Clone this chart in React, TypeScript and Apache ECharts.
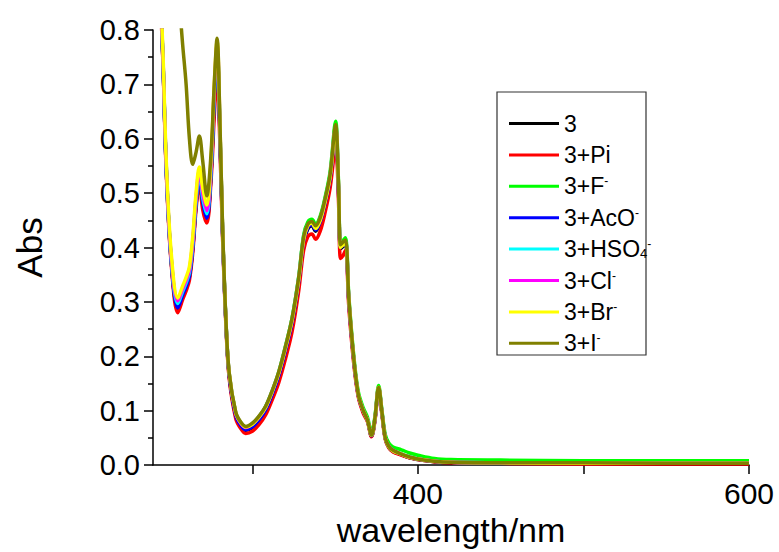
import React, { useEffect, useRef } from "react";
import * as echarts from "echarts";

const wavelengths = [240, 243, 246, 248, 251, 255, 258, 260, 262, 264, 266, 268, 270, 272.5, 275, 277, 278.7, 280.5, 282, 284, 286, 290, 293, 296, 300, 304, 308, 312, 316, 320, 324, 328, 331, 333.5, 336, 338.2, 341, 344, 347, 350.3, 352, 353.3, 354.8, 356.3, 358.3, 361.3, 364, 367, 369.5, 372, 374, 376.3, 378.3, 380.3, 382.5, 385, 390, 395, 400, 410, 420, 450, 500, 550, 600];

const abs3 = [1.3, 0.985, 0.745, 0.545, 0.375, 0.288, 0.312, 0.327, 0.346, 0.398, 0.478, 0.53, 0.482, 0.452, 0.532, 0.67, 0.755, 0.6, 0.43, 0.265, 0.165, 0.09, 0.072, 0.064, 0.069, 0.082, 0.1, 0.129, 0.163, 0.208, 0.259, 0.335, 0.41, 0.434, 0.44, 0.43, 0.445, 0.48, 0.525, 0.612, 0.51, 0.398, 0.402, 0.407, 0.3, 0.192, 0.128, 0.098, 0.082, 0.053, 0.082, 0.14, 0.095, 0.049, 0.032, 0.025, 0.019, 0.013, 0.01, 0.006, 0.004, 0.003, 0.003, 0.002, 0.002];
const absPi = [1.3, 0.98, 0.74, 0.54, 0.37, 0.28, 0.305, 0.32, 0.34, 0.39, 0.47, 0.52, 0.47, 0.445, 0.52, 0.64, 0.72, 0.58, 0.42, 0.26, 0.16, 0.085, 0.067, 0.058, 0.062, 0.074, 0.092, 0.12, 0.152, 0.195, 0.245, 0.32, 0.395, 0.42, 0.425, 0.415, 0.43, 0.465, 0.51, 0.585, 0.49, 0.38, 0.385, 0.395, 0.29, 0.185, 0.125, 0.095, 0.08, 0.052, 0.08, 0.138, 0.092, 0.047, 0.031, 0.024, 0.018, 0.013, 0.01, 0.006, 0.004, 0.003, 0.002, 0.002, 0.002];
const absF = [1.3, 0.99, 0.75, 0.55, 0.38, 0.294, 0.318, 0.333, 0.352, 0.405, 0.485, 0.535, 0.49, 0.46, 0.54, 0.68, 0.765, 0.61, 0.435, 0.268, 0.168, 0.095, 0.077, 0.068, 0.074, 0.088, 0.107, 0.136, 0.171, 0.218, 0.27, 0.346, 0.423, 0.447, 0.452, 0.443, 0.458, 0.493, 0.54, 0.632, 0.525, 0.41, 0.413, 0.418, 0.31, 0.2, 0.135, 0.105, 0.088, 0.06, 0.088, 0.146, 0.1, 0.056, 0.04, 0.033, 0.028, 0.022, 0.018, 0.012, 0.01, 0.009, 0.008, 0.008, 0.008];
const absAcO = [1.3, 0.985, 0.745, 0.545, 0.376, 0.289, 0.313, 0.328, 0.347, 0.399, 0.479, 0.531, 0.484, 0.454, 0.534, 0.672, 0.757, 0.602, 0.431, 0.266, 0.166, 0.091, 0.073, 0.065, 0.07, 0.083, 0.101, 0.13, 0.164, 0.21, 0.261, 0.337, 0.412, 0.436, 0.442, 0.432, 0.447, 0.482, 0.527, 0.615, 0.512, 0.4, 0.404, 0.409, 0.302, 0.193, 0.129, 0.099, 0.083, 0.054, 0.083, 0.141, 0.096, 0.05, 0.033, 0.026, 0.02, 0.014, 0.011, 0.007, 0.005, 0.004, 0.003, 0.003, 0.003];
const absHSO4 = [1.3, 0.988, 0.748, 0.548, 0.378, 0.297, 0.32, 0.335, 0.354, 0.406, 0.486, 0.538, 0.492, 0.462, 0.542, 0.682, 0.768, 0.612, 0.436, 0.269, 0.169, 0.096, 0.078, 0.07, 0.076, 0.089, 0.107, 0.136, 0.171, 0.217, 0.269, 0.344, 0.419, 0.442, 0.447, 0.438, 0.453, 0.488, 0.533, 0.622, 0.518, 0.403, 0.408, 0.412, 0.304, 0.194, 0.13, 0.1, 0.083, 0.055, 0.084, 0.142, 0.097, 0.05, 0.034, 0.027, 0.02, 0.015, 0.011, 0.007, 0.005, 0.004, 0.003, 0.003, 0.003];
const absCl = [1.3, 0.99, 0.752, 0.552, 0.382, 0.302, 0.325, 0.34, 0.359, 0.412, 0.492, 0.542, 0.5, 0.468, 0.55, 0.69, 0.773, 0.615, 0.437, 0.269, 0.169, 0.095, 0.077, 0.069, 0.075, 0.088, 0.106, 0.135, 0.169, 0.215, 0.266, 0.341, 0.415, 0.44, 0.445, 0.436, 0.451, 0.486, 0.531, 0.62, 0.518, 0.402, 0.407, 0.411, 0.303, 0.193, 0.129, 0.1, 0.083, 0.055, 0.083, 0.142, 0.096, 0.05, 0.034, 0.027, 0.02, 0.014, 0.011, 0.007, 0.005, 0.004, 0.003, 0.003, 0.003];
const absBr = [1.3, 1.0, 0.76, 0.56, 0.39, 0.307, 0.33, 0.345, 0.365, 0.42, 0.5, 0.548, 0.51, 0.478, 0.56, 0.7, 0.78, 0.62, 0.44, 0.27, 0.17, 0.096, 0.078, 0.07, 0.075, 0.088, 0.106, 0.135, 0.169, 0.215, 0.266, 0.34, 0.415, 0.44, 0.445, 0.435, 0.45, 0.485, 0.53, 0.62, 0.52, 0.4, 0.405, 0.41, 0.305, 0.195, 0.13, 0.1, 0.083, 0.055, 0.084, 0.143, 0.097, 0.05, 0.033, 0.026, 0.02, 0.014, 0.011, 0.007, 0.005, 0.004, 0.003, 0.003, 0.003];
const absI = [1.6, 1.4, 1.2, 1.1, 0.98, 0.88, 0.77, 0.7, 0.6, 0.553, 0.575, 0.605, 0.56, 0.495, 0.57, 0.7, 0.785, 0.62, 0.44, 0.27, 0.17, 0.097, 0.079, 0.071, 0.077, 0.09, 0.108, 0.137, 0.172, 0.218, 0.27, 0.345, 0.42, 0.443, 0.448, 0.44, 0.455, 0.49, 0.535, 0.626, 0.52, 0.405, 0.41, 0.414, 0.305, 0.195, 0.13, 0.1, 0.083, 0.055, 0.085, 0.143, 0.097, 0.05, 0.034, 0.027, 0.02, 0.015, 0.011, 0.007, 0.005, 0.004, 0.004, 0.003, 0.003];

const seriesNames = ["3", "3+Pi", "3+F-", "3+AcO-", "3+HSO4-", "3+Cl-", "3+Br-", "3+I-"];
const seriesLabels = ["3", "3+Pi", "3+F{sup|-}", "3+AcO{sup|-}", "3+HSO{sub|4}{sup|-}", "3+Cl{sup|-}", "3+Br{sup|-}", "3+I{sup|-}"];
const seriesColors = ["#000000", "#FF0000", "#00FF00", "#0000FF", "#00FFFF", "#FF00FF", "#FFFF00", "#808000"];
const seriesValues = [abs3, absPi, absF, absAcO, absHSO4, absCl, absBr, absI];

const xTickValues = [300, 400, 500, 600];
const xLabelValues = [400, 600];

const FONT = "'Liberation Sans', Arial, sans-serif";

export default function App() {
  const ref = useRef<HTMLDivElement>(null);
  useEffect(() => {
    if (!ref.current) return;
    const chart = echarts.init(ref.current, null, { renderer: "svg" });
    const series = seriesNames.map((name, i) => ({
      name,
      type: "line",
      data: wavelengths.map((w, j) => [w, seriesValues[i][j]]),
      showSymbol: false,
      symbol: "none",
      smooth: 0.35,
      clip: true,
      color: seriesColors[i],
      lineStyle: { color: seriesColors[i], width: 3.5 },
      z: 2 + i,
    }));
    chart.setOption({
      animation: false,
      backgroundColor: "#ffffff",
      grid: { left: 153, right: 30, top: 30, bottom: 87, containLabel: false },
      xAxis: {
        type: "value",
        min: 240,
        max: 600,
        name: "wavelength/nm",
        nameLocation: "middle",
        nameGap: 42,
        nameTextStyle: { fontFamily: FONT, fontSize: 34, color: "#000" },
        axisLine: { show: true, onZero: false, lineStyle: { color: "#000", width: 1.5 } },
        axisTick: { show: true, inside: false, length: 9, customValues: xTickValues, lineStyle: { color: "#000", width: 1.5 } },
        axisLabel: { show: true, customValues: xLabelValues, margin: 13, fontFamily: FONT, fontSize: 30, color: "#000" },
        splitLine: { show: false },
      },
      yAxis: {
        type: "value",
        min: 0,
        max: 0.8,
        interval: 0.1,
        name: "Abs",
        nameLocation: "middle",
        nameGap: 106,
        nameRotate: 90,
        nameTextStyle: { fontFamily: FONT, fontSize: 35, color: "#000" },
        axisLine: { show: true, lineStyle: { color: "#000", width: 1.5 } },
        axisTick: { show: true, inside: false, length: 9, lineStyle: { color: "#000", width: 1.5 } },
        minorTick: { show: true, splitNumber: 2, length: 5, lineStyle: { color: "#000", width: 1.5 } },
        axisLabel: { margin: 13, fontFamily: FONT, fontSize: 29, color: "#000", formatter: (v: number) => v.toFixed(1) },
        splitLine: { show: false },
      },
      legend: {
        orient: "vertical",
        left: 504,
        top: 107,
        icon: "rect",
        itemWidth: 50,
        itemHeight: 3,
        itemGap: 8.4,
        selectedMode: false,
        data: seriesNames,
        formatter: (name: string) => seriesLabels[seriesNames.indexOf(name)],
        textStyle: {
          fontFamily: FONT,
          fontSize: 23,
          lineHeight: 22,
          color: "#000",
          rich: {
            sup: { fontFamily: FONT, fontSize: 12, lineHeight: 12, verticalAlign: "top", color: "#000" },
            sub: { fontFamily: FONT, fontSize: 13, lineHeight: 12, verticalAlign: "bottom", color: "#000" },
          },
        },
      },
      graphic: [
        {
          type: "rect",
          shape: { x: 497, y: 92, width: 149, height: 263 },
          style: { fill: "none", stroke: "#333", lineWidth: 1.2 },
          z: 1,
        },
      ],
      series,
    });
    return () => chart.dispose();
  }, []);
  return <div ref={ref} style={{ position: "fixed", left: 0, top: 0, width: 779, height: 552 }} />;
}
